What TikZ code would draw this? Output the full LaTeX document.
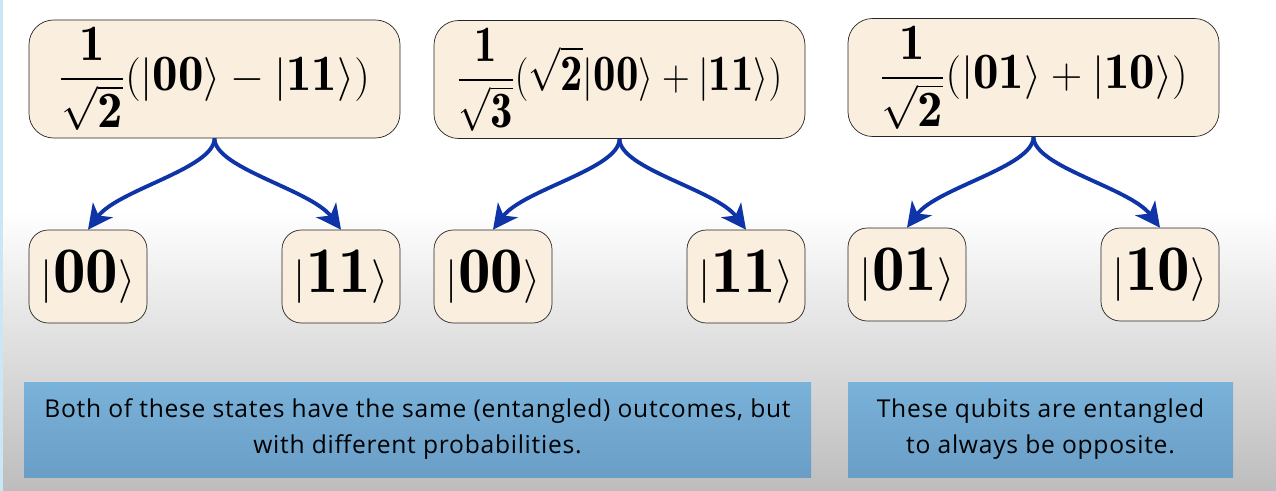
\documentclass[tikz,border=0pt]{standalone}
\usepackage{amsmath}
\usepackage{graphicx}
\usepackage{fontspec}
\setsansfont{Open Sans}[LetterSpace=3]
\usetikzlibrary{arrows.meta}

\definecolor{boxfill}{RGB}{250,238,222}
\definecolor{arrowblue}{RGB}{14,52,168}
\definecolor{notetop}{RGB}{122,178,218}
\definecolor{notebot}{RGB}{106,158,198}
\definecolor{edgeblue}{RGB}{200,232,246}

\tikzstyle{state}=[draw=black!85,fill=boxfill,inner sep=0pt]
\tikzstyle{superpos}=[state,rounded corners=14pt,minimum width=7.42cm,minimum height=2.36cm,font=\fontsize{29}{33}\selectfont]
\tikzstyle{outcome}=[state,rounded corners=11pt,minimum width=2.36cm,minimum height=1.86cm,font=\fontsize{37}{41}\selectfont]
\tikzstyle{branch}=[draw=arrowblue,line width=2.2pt,-{Stealth[length=14pt,width=14pt,inset=4pt]}]
\tikzstyle{note}=[top color=notetop,bottom color=notebot,minimum height=1.9cm,align=center,
    font=\sffamily\fontsize{14}{20.5}\selectfont]
\newcommand{\qket}[1]{\lvert\mathbf{#1}\rangle}

\begin{document}
\begin{tikzpicture}
    % background of the slide
    \useasboundingbox (0,0) rectangle (25.52,-9.82);
    \fill[white] (0,0) rectangle (25.52,-9.82);
    \shade[top color=white,bottom color=black!26] (0,-4.2) rectangle (25.52,-9.82);
    \fill[edgeblue] (0,0) rectangle (0.05,-9.82);
    % the three states
    \node[superpos] (s1) at (4.29,-1.58) {$\displaystyle\frac{\mathbf{1}}{\sqrt{\mathbf{2}}}(\qket{00}-\qket{11})$};
    \node[superpos] (s2) at (12.39,-1.59) {\scalebox{0.88}[1]{$\displaystyle\frac{\mathbf{1}}{\sqrt{\mathbf{3}}}(\sqrt{\mathbf{2}}\qket{00}+\qket{11})$}};
    \node[superpos] (s3) at (20.67,-1.55) {$\displaystyle\frac{\mathbf{1}}{\sqrt{\mathbf{2}}}(\qket{01}+\qket{10})$};
    % measurement outcomes
    \foreach \pos/\name/\bits in {{(1.76,-5.53)/o1/00}, {(6.82,-5.53)/o2/11}, {(9.86,-5.53)/o3/00},
        {(14.92,-5.53)/o4/11}, {(18.14,-5.49)/o5/01}, {(23.2,-5.49)/o6/10}}
        \node[outcome] (\name) at \pos {$\qket{\bits}$};
    % branches from each state to its outcomes
    \foreach \source/\dest/\dx in {s1/o1/0.6, s1/o2/-0.6, s2/o3/0.6, s2/o4/-0.6, s3/o5/0.6, s3/o6/-0.6}
        \path[branch] (\source.south) .. controls +(0,-0.6) and +(\dx,0.8) .. (\dest.north);
    % remarks
    \node[note,minimum width=15.74cm] (n1) at (8.35,-8.59)
        {Both of these states have the same (entangled) outcomes, but\\with different probabilities.};
    \node[note,minimum width=7.7cm] (n2) at (20.81,-8.59)
        {These qubits are entangled\\to always be opposite.};
\end{tikzpicture}
\end{document}
